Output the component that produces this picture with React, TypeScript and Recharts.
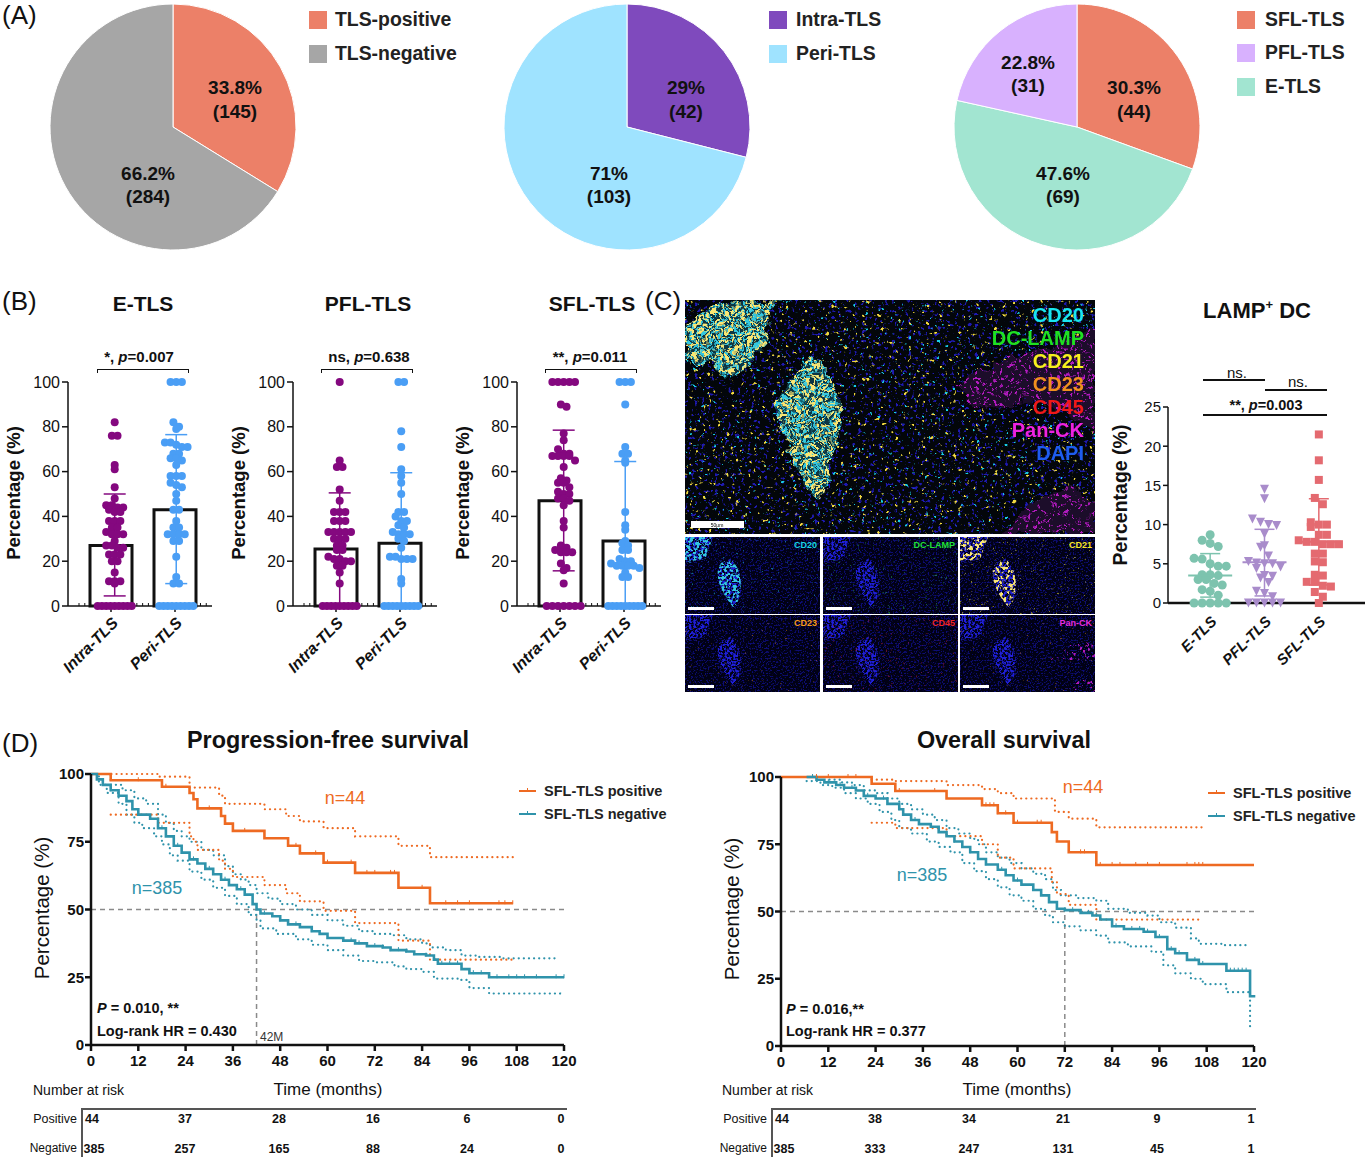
import React from "react";
import {
  Bar,
  Cell,
  ComposedChart,
  ErrorBar,
  Line,
  Pie,
  PieChart,
  ReferenceLine,
  Scatter,
  XAxis,
  YAxis,
} from "recharts";

const FONT = "'Liberation Sans', Arial, sans-serif";
const ORANGE = "#EE6A22";
const TEAL = "#2F93AB";

// panel A
const pieTls = [145, 284];
const pieLoc = [42, 103];
const pieType = [44, 69, 31];

// panel B
const rep = (v: number, n: number) => Array(n).fill(v) as number[];
const eIntra = [82, 76, 76, 63, 61, 53, 48, 45, 45, 44, 44, 43, 42, 42, 38, 38, 38, 35, 35, 33, 32, 32, 32, 29, 27, 27, 26, 26, 23, 23, 23, 20, 20, 15, 11, 11, 11, 10, ...rep(0, 9)];
const ePeri = [...rep(100, 3), 82, 80, 79, 73, 73, 72, 71, 71, 68, 68, 66, 66, 65, 63, 58, 58, 58, 55, 54, 53, 50, 47, 43, 43, 38, 35, 35, 32, 32, 32, 32, 29, 29, 22, 13, 10, 10, ...rep(0, 9)];
const pflIntra = [100, 65, 62, 62, 52, 47, 42, 42, 42, 38, 38, 38, 33, 33, 33, 33, 33, 30, 30, 30, 27, 27, 25, 25, 22, 21, 21, 20, 20, 18, 18, 15, 10, ...rep(0, 9)];
const pflPeri = [...rep(100, 2), 78, 71, 61, 58, 55, 50, 42, 42, 40, 38, 38, 36, 35, 33, 32, 32, 32, 30, 29, 26, 22, 22, 21, 21, 21, 12, 10, ...rep(0, 9)];
const sflIntra = [...rep(100, 5), 90, 89, 77, 74, 70, 68, 68, 67, 67, 67, 67, 65, 62, 57, 56, 55, 55, 53, 51, 50, 50, 48, 48, 47, 45, 38, 35, 27, 26, 25, 24, 24, 24, 19, 17, 16, 10, ...rep(0, 7)];
const sflPeri = [...rep(100, 3), 90, 71, 68, 68, 65, 64, 42, 36, 34, 29, 28, 27, 25, 25, 21, 20, 20, 19, 18, 18, 18, 18, 17, 15, 13, 13, ...rep(0, 9)];
const locNames = ["Intra-TLS", "Peri-TLS"];
const eMeans = [27, 43];
const eLow = [4.5, 10];
const eHigh = [50, 76.5];
const pflMeans = [25.5, 28];
const pflLow = [0, 0];
const pflHigh = [50.5, 59.5];
const sflMeans = [47, 29];
const sflLow = [15.7, 0];
const sflHigh = [78.5, 64.5];

// panel C
const dcNames = ["E-TLS", "PFL-TLS", "SFL-TLS"];
const dcE = [8.7, 8, 7.6, 7.2, 5.7, 5.6, 5, 4.7, 4.7, 3.6, 3.6, 3.5, 3, 3, 2.5, 2.3, 1.7, 1.5, 1, ...rep(0, 5)];
const dcPfl = [14.5, 13.3, 10.7, 10.3, 10, 9.9, 8.8, 7.3, 7.1, 6, 5.3, 5.1, 5, 5, 4.6, 4.4, 3.5, 3.4, 3.2, 2.6, 1.5, 1.2, 0.8, ...rep(0, 5)];
const dcSfl = [21.5, 18.2, 15.7, 13.4, 12.6, 10.3, 10, 10, 9.7, 8.7, 8.7, 8, 7.8, 7.8, 7.5, 7.5, 7.5, 6.3, 6.3, 5.3, 5.2, 3.6, 3.5, 2.7, 2.7, 2.2, 2.1, 1.4, 0.8, 0];
const dcMeans = [3.5, 5.2, 7.8];
const dcLow = [0.75, 0.9, 2.3];
const dcHigh = [6.3, 9.4, 13.3];

// panel D, progression-free survival
const pfsPosT = [0, 5, 18, 25, 26, 27, 33, 34, 36, 44, 50, 53, 59, 67, 78, 86, 107];
const pfsPosS = [100, 97.7, 95.3, 93, 90.7, 87.3, 84.5, 81.7, 79, 76.3, 73.5, 70.7, 67.3, 63.5, 58, 52.3, 52.3];
const pfsPosUpT = [0, 17, 25, 32.5, 34, 36, 44, 49.5, 53, 59, 67, 78, 86, 107];
const pfsPosUpS = [100, 99, 95, 92, 89, 89, 87, 84.5, 82.5, 80, 77, 73.5, 69.3, 69.3];
const pfsPosLoT = [5, 17, 25, 26, 27, 32.5, 34, 36, 44, 49.5, 53, 59, 67, 78, 86, 107];
const pfsPosLoS = [85, 82, 77, 75, 72, 68, 65, 62, 59, 56, 53, 49.5, 45, 38.5, 31.5, 31.5];
const pfsPosCens = [12, 19, 30, 39, 52, 57, 60, 66, 70, 72, 76, 77, 84, 90, 93, 96, 103.5, 105, 107];
const pfsNegT = [0, 1.5, 3, 5, 7, 9, 10.5, 12, 15, 17, 19, 21, 23, 25, 27, 29, 31, 33, 35, 37, 39, 41, 42, 43, 46, 48, 50, 53, 56, 58, 60, 64, 67, 70, 74, 76, 80, 82, 85, 87, 88, 94, 96, 101, 120];
const pfsNegS = [100, 98, 96, 94, 92, 90, 87, 85, 83.5, 80, 77, 73.5, 71, 68.5, 67, 65, 63, 61, 59, 57.5, 55.5, 52, 50, 48.5, 47.5, 46, 44.5, 43.5, 42, 41, 39.5, 38.5, 37.5, 36.5, 36, 35, 34.5, 33.5, 33, 31.5, 30, 28, 26.5, 25, 25];
const pfsNegUpT = [0, 5, 8, 11, 14, 17, 19, 21, 23, 25, 28, 31, 34, 36, 38, 40, 42, 45, 48, 52, 56, 60, 64, 68, 72, 76, 80, 84, 86, 90, 94, 98, 104, 118];
const pfsNegUpS = [100, 96, 94, 91, 89, 85, 82, 79, 77, 75, 72, 70, 66, 63, 61, 59, 56, 54, 52, 50, 48, 46, 44, 42, 41, 40.5, 39, 37.5, 36, 35, 33, 32.5, 32, 31.5];
const pfsNegLoT = [0, 2, 4, 7, 9, 11, 13, 16, 18, 20, 22, 25, 28, 31, 34, 37, 40, 42, 43, 47, 52, 56, 60, 64, 68, 72, 77, 80, 84, 87, 93, 96, 101, 119];
const pfsNegLoS = [100, 96, 93, 89, 85, 82, 80, 77, 74, 70, 68, 64, 61, 58, 55, 52, 48, 46, 43, 41, 39, 37, 35, 33, 31, 30.5, 29, 28, 27, 24.5, 24, 21, 19, 18.5];
const pfsNegCens = [5, 9, 12, 15, 18, 22, 26, 30, 34, 38, 44, 48, 52, 56, 60, 64, 66, 68, 70, 72, 74, 76, 78, 80, 82, 85, 87, 89, 91, 93, 97, 99, 103, 106, 108, 110, 113, 118, 120];

// panel D, overall survival
const osPosT = [0, 23, 29, 42, 51, 55, 59, 68.7, 70, 73, 80, 120];
const osPosS = [100, 97.5, 94.8, 92, 89.5, 86.5, 83, 79.5, 76, 72, 67.3, 67.3];
const osPosUpT = [23, 29, 42, 51, 55, 59, 69.5, 73, 80, 107];
const osPosUpS = [99, 98.5, 97, 95.5, 94, 92, 87, 84.5, 81.3, 81.3];
const osPosLoT = [23, 29, 42, 51, 55, 59, 68.7, 70, 73, 80, 107];
const osPosLoS = [83, 81, 78, 75, 70, 66, 61, 56.5, 52.5, 47, 47];
const osPosCens = [9, 12, 17, 19, 30, 39, 52, 53, 54, 55, 57, 60, 65, 66, 76, 77, 81, 84, 86, 90, 93, 96, 103, 105, 106, 107];
const osNegT = [6.5, 9, 11, 14, 16, 19, 21, 24, 27, 30, 31, 33, 35, 38, 40, 42, 44, 46, 48, 50, 52, 55, 57, 59, 61, 64, 66, 68, 70, 72, 76, 79, 81, 84, 87, 92, 95, 98, 100, 103, 106, 113, 119, 120];
const osNegS = [100, 99, 98, 97, 96, 95, 93, 92, 90, 88, 86, 84, 82.5, 81.5, 79.5, 78, 76, 74, 72, 69.5, 67.5, 65.5, 63.5, 61.5, 60, 58, 56, 53.5, 51, 50.5, 49.5, 48.5, 47, 44.5, 43.5, 42.5, 40.5, 36, 34.5, 32, 30.5, 28, 18.5, 18];
const osNegUpT = [6.5, 12, 15, 18, 21, 24, 27, 30, 33, 36, 39, 42, 45, 48, 50, 52, 55, 58, 61, 64, 67, 69, 71, 75, 80, 83, 88, 93, 96, 100, 104, 106, 112, 118];
const osNegUpS = [100, 99, 98, 97, 95, 94, 92, 90, 88, 86, 84, 81, 79, 77, 75, 72, 70, 68, 66, 64, 62, 58, 56, 55, 54, 51, 49.5, 48.5, 46, 44, 40, 38, 37.5, 36];
const osNegLoT = [6.5, 10, 13, 16, 19, 22, 25, 28, 30, 33, 37, 40, 43, 46, 49, 52, 55, 58, 61, 64, 67, 69, 72, 76, 80, 83, 88, 94, 97, 100, 104, 107, 113, 119];
const osNegLoS = [98.5, 97, 96, 94, 92, 90, 87, 84, 81, 79, 76, 74, 72, 68, 65, 62, 59, 56, 54, 51, 48.5, 46, 44.5, 43, 41, 38.5, 37, 35, 30, 27, 25, 23, 20, 7];
const osNegCens = [8, 12, 15, 18, 22, 26, 30, 34, 38, 44, 48, 52, 56, 60, 64, 68, 72, 74, 76, 78, 80, 85, 87, 89, 91, 93, 96, 99, 101, 103, 105, 107, 114, 115, 116, 117, 118];

const monthTicks = [0, 12, 24, 36, 48, 60, 72, 84, 96, 108, 120];
const riskCols = [0, 1, 2, 3, 4, 5];
const pfsRiskPos = [44, 37, 28, 16, 6, 0];
const pfsRiskNeg = [385, 257, 165, 88, 24, 0];
const osRiskPos = [44, 38, 34, 21, 9, 1];
const osRiskNeg = [385, 333, 247, 131, 45, 1];

const steps = (t: number[], s: number[]) => t.map((v, i) => ({ t: v, s: s[i] }));
const censored = (times: number[], t: number[], s: number[]) =>
  times.map((c) => {
    let k = 0;
    t.forEach((v, i) => {
      if (v <= c) k = i;
    });
    return { t: c, s: s[k] };
  });

// prism style swarm: values in one bin spread sideways from the centre
function swarm(values: number[], center: number, bin: number, step: number, zeroStep = step) {
  const bins = new Map<number, number[]>();
  values.forEach((v) => {
    const key = v === 0 || v === 100 ? v * 1000 : Math.round(v / bin);
    bins.set(key, [...(bins.get(key) ?? []), v]);
  });
  const out: { x: number; y: number }[] = [];
  bins.forEach((vals) => {
    vals.forEach((v, i) => {
      const s = v === 0 ? zeroStep : step;
      out.push({ x: center + (i - (vals.length - 1) / 2) * s, y: v });
    });
  });
  return out;
}

function T({ x, y, children, size = 14, bold, italic, color = "#111", anchor = "middle", rotate = 0 }: any) {
  const tx = anchor === "middle" ? "-50%" : anchor === "end" ? "-100%" : "0";
  return (
    <div
      style={{
        position: "absolute",
        left: x,
        top: y,
        transform: `translate(${tx}, -50%) rotate(${rotate}deg)`,
        whiteSpace: "nowrap",
        fontFamily: FONT,
        fontSize: size,
        fontWeight: bold ? 700 : 400,
        fontStyle: italic ? "italic" : "normal",
        color,
        lineHeight: 1,
      }}
    >
      {children}
    </div>
  );
}

const Box = ({ x, y, w, h, color }: any) => (
  <div style={{ position: "absolute", left: x, top: y, width: w, height: h, background: color }} />
);

function PieBlock({ cx, values, colors }: { cx: number; values: number[]; colors: string[] }) {
  const data = values.map((value, i) => ({ name: String(i), value }));
  return (
    <div style={{ position: "absolute", left: cx - 130, top: -3 }}>
      <PieChart width={260} height={260} margin={{ top: 0, right: 0, bottom: 0, left: 0 }}>
        <Pie
          data={data}
          dataKey="value"
          cx={130}
          cy={130}
          outerRadius={123}
          startAngle={90}
          endAngle={-270}
          stroke="#fff"
          strokeWidth={1}
          isAnimationActive={false}
        >
          {data.map((d, i) => (
            <Cell key={d.name} fill={colors[i]} />
          ))}
        </Pie>
      </PieChart>
    </div>
  );
}

const PURPLE = "#84087F";
const BLUE = "#4A9EF5";
const Nothing = () => <g />;
const RoundDot = (p: any) => <circle cx={p.cx} cy={p.cy} r={4} fill={p.fill} />;
const AxisNick = (p: any) => <line x1={p.cx} x2={p.cx} y1={p.cy - 3} y2={p.cy} stroke="#111" strokeWidth={1} />;
// small ticks the source figure has along its zero line
const minorTicks = Array.from({ length: 23 }, (_, i) => ({ x: -0.58 + i * 0.094, y: 0 }));

function SwarmPanel({ axisX, intra, peri, means, low, high, intraZeroStep = 0.069 }: any) {
  const bars = locNames.map((name, i) => ({ name, mean: means[i] }));
  const errs = [PURPLE, BLUE].map((c, i) => ({
    color: c,
    data: [{ x: i, y: means[i], err: [means[i] - low[i], high[i] - means[i]] }],
  }));
  return (
    <div style={{ position: "absolute", left: axisX - 40, top: 372 }}>
      <ComposedChart width={194} height={314} data={bars} margin={{ top: 10, right: 10, bottom: 0, left: 0 }}>
        <XAxis
          xAxisId="cat"
          dataKey="name"
          height={80}
          padding={{ left: 11, right: 5 }}
          interval={0}
          stroke="#111"
          strokeWidth={1.5}
          tickSize={6}
          tickMargin={4}
          angle={-45}
          textAnchor="end"
          tick={{ fontFamily: FONT, fontSize: 16, fontWeight: 700, fontStyle: "italic", fill: "#111" }}
        />
        <XAxis xAxisId="num" type="number" dataKey="x" domain={[-0.5, 1.5]} hide padding={{ left: 11, right: 5 }} />
        <YAxis
          dataKey="y"
          width={40}
          domain={[0, 100]}
          ticks={[0, 20, 40, 60, 80, 100]}
          stroke="#111"
          strokeWidth={1.5}
          tickSize={6}
          tickMargin={2}
          tick={{ fontFamily: FONT, fontSize: 16, fill: "#111" }}
        />
        <Scatter xAxisId="num" data={minorTicks} shape={AxisNick} isAnimationActive={false} />
        <Bar xAxisId="cat" dataKey="mean" fill="none" stroke="#111" strokeWidth={3} barSize={42} isAnimationActive={false} />
        <Scatter xAxisId="num" data={swarm(intra, 0, 3, 0.092, intraZeroStep)} fill={PURPLE} shape={RoundDot} isAnimationActive={false} />
        <Scatter xAxisId="num" data={swarm(peri, 1, 3, 0.092, 0.069)} fill={BLUE} shape={RoundDot} isAnimationActive={false} />
        {errs.map((e) => (
          <Scatter key={e.color} xAxisId="num" data={e.data} shape={Nothing} isAnimationActive={false}>
            <ErrorBar dataKey="err" direction="y" width={11} stroke={e.color} strokeWidth={1.5} isAnimationActive={false} />
          </Scatter>
        ))}
      </ComposedChart>
    </div>
  );
}

const MeanLine = (color: string) => (p: any) =>
  <line x1={p.cx - 22} x2={p.cx + 22} y1={p.cy} y2={p.cy} stroke={color} strokeWidth={2} />;
const DownTriangle = (p: any) => (
  <path d={`M${p.cx - 4.5} ${p.cy - 4.5}H${p.cx + 4.5}L${p.cx} ${p.cy + 4.5}Z`} fill={p.fill} />
);
const SquareDot = (p: any) => <rect x={p.cx - 4} y={p.cy - 4} width={8} height={8} fill={p.fill} />;
const BigDot = (p: any) => <circle cx={p.cx} cy={p.cy} r={4.5} fill={p.fill} />;

const dcGroups = [
  { values: dcE, color: "#7DC3AE", shape: BigDot },
  { values: dcPfl, color: "#A98CCB", shape: DownTriangle },
  { values: dcSfl, color: "#E46A70", shape: SquareDot },
];

function DcChart() {
  return (
    <div style={{ position: "absolute", left: 1128, top: 397 }}>
      <ComposedChart width={237} height={286} margin={{ top: 10, right: 0, bottom: 0, left: 0 }}>
        <XAxis
          type="number"
          dataKey="x"
          domain={[-0.5, 2.5]}
          ticks={[0, 1, 2]}
          tickFormatter={(i: number) => dcNames[i]}
          padding={{ left: 15, right: 19 }}
          height={80}
          interval={0}
          stroke="#111"
          strokeWidth={2.5}
          tickLine={false}
          tickMargin={6}
          angle={-45}
          textAnchor="end"
          tick={{ fontFamily: FONT, fontSize: 15, fontWeight: 700, fontStyle: "italic", fill: "#111" }}
        />
        <YAxis
          dataKey="y"
          width={40}
          domain={[0, 25]}
          ticks={[0, 5, 10, 15, 20, 25]}
          stroke="#111"
          strokeWidth={1.5}
          tickSize={5}
          tickMargin={2}
          tick={{ fontFamily: FONT, fontSize: 15, fill: "#111" }}
        />
        {dcGroups.map((g, i) => (
          <Scatter key={g.color} data={swarm(g.values, i, 1.3, 0.148)} fill={g.color} shape={g.shape} isAnimationActive={false} />
        ))}
        {dcGroups.map((g, i) => (
          <Scatter
            key={g.color + "m"}
            data={[{ x: i, y: dcMeans[i], err: [dcMeans[i] - dcLow[i], dcHigh[i] - dcMeans[i]] }]}
            shape={MeanLine(g.color)}
            isAnimationActive={false}
          >
            <ErrorBar dataKey="err" direction="y" width={10} stroke={g.color} strokeWidth={1.5} isAnimationActive={false} />
          </Scatter>
        ))}
      </ComposedChart>
    </div>
  );
}

const CensorTick = (color: string) => (p: any) =>
  <line x1={p.cx} x2={p.cx} y1={p.cy - 3} y2={p.cy + 1} stroke={color} strokeWidth={1} />;

function Survival({ left, top, height, curves, median }: any) {
  const solid = { type: "stepAfter" as const, dot: false, isAnimationActive: false, strokeWidth: 2.6 };
  const dotted = {
    type: "stepAfter" as const,
    dot: false,
    isAnimationActive: false,
    strokeWidth: 2.2,
    strokeDasharray: "0.1 5",
    strokeLinecap: "round" as const,
  };
  return (
    <div style={{ position: "absolute", left, top }}>
      <ComposedChart width={540} height={height} margin={{ top: 10, right: 17, bottom: 0, left: 0 }}>
        <XAxis
          dataKey="t"
          type="number"
          domain={[0, 120]}
          ticks={monthTicks}
          height={30}
          stroke="#111"
          strokeWidth={2.5}
          tickSize={6}
          tickMargin={4}
          tick={{ fontFamily: FONT, fontSize: 15, fontWeight: 700, fill: "#111" }}
        />
        <YAxis
          dataKey="s"
          width={50}
          domain={[0, 100]}
          ticks={[0, 25, 50, 75, 100]}
          stroke="#111"
          strokeWidth={2.5}
          tickSize={6}
          tickMargin={1}
          tick={{ fontFamily: FONT, fontSize: 15, fontWeight: 700, fill: "#111" }}
        />
        <ReferenceLine y={50} stroke="#8a8a8a" strokeWidth={1.5} strokeDasharray="5 4" />
        <ReferenceLine segment={[{ x: median, y: 0 }, { x: median, y: 50 }]} stroke="#8a8a8a" strokeWidth={1.5} strokeDasharray="5 4" />
        {curves.map((c: any) => (
          <Line key={c.id} data={c.data} dataKey="s" stroke={c.color} {...(c.ci ? dotted : solid)} />
        ))}
        {curves
          .filter((c: any) => c.cens)
          .map((c: any) => (
            <Scatter key={c.id + "c"} data={c.cens} shape={CensorTick(c.color)} isAnimationActive={false} />
          ))}
      </ComposedChart>
    </div>
  );
}

const pfsCurves = [
  { id: "nu", color: TEAL, ci: true, data: steps(pfsNegUpT, pfsNegUpS) },
  { id: "nl", color: TEAL, ci: true, data: steps(pfsNegLoT, pfsNegLoS) },
  { id: "pu", color: ORANGE, ci: true, data: steps(pfsPosUpT, pfsPosUpS) },
  { id: "pl", color: ORANGE, ci: true, data: steps(pfsPosLoT, pfsPosLoS) },
  { id: "p", color: ORANGE, data: steps(pfsPosT, pfsPosS), cens: censored(pfsPosCens, pfsPosT, pfsPosS) },
  { id: "n", color: TEAL, data: steps(pfsNegT, pfsNegS), cens: censored(pfsNegCens, pfsNegT, pfsNegS) },
];
const osCurves = [
  { id: "nu", color: TEAL, ci: true, data: steps(osNegUpT, osNegUpS) },
  { id: "nl", color: TEAL, ci: true, data: steps(osNegLoT, osNegLoS) },
  { id: "pu", color: ORANGE, ci: true, data: steps(osPosUpT, osPosUpS) },
  { id: "pl", color: ORANGE, ci: true, data: steps(osPosLoT, osPosLoS) },
  { id: "p", color: ORANGE, data: steps(osPosT, osPosS), cens: censored(osPosCens, osPosT, osPosS) },
  { id: "n", color: TEAL, data: steps(osNegT, osNegS), cens: censored(osNegCens, osNegT, osNegS) },
];

function RiskTable({ labelX, ruleX, ruleW, firstX, spacing, riskPos, riskNeg, headX }: any) {
  return (
    <>
      <T x={headX} y={1090} size={14} anchor="start">Number at risk</T>
      <Box x={ruleX} y={1108} w={ruleW} h={1.5} color="#555" />
      <Box x={ruleX} y={1108} w={1.5} h={49} color="#555" />
      <T x={labelX} y={1119} size={12.5} anchor="end">Positive</T>
      <T x={labelX} y={1148} size={12} anchor="end">Negative</T>
      {riskCols.map((i) => (
        <React.Fragment key={i}>
          <T x={firstX + i * spacing + (i === 0 ? 1 : 0)} y={1119} size={12.5} bold>{riskPos[i]}</T>
          <T x={firstX + i * spacing + (i === 0 ? 3 : 0)} y={1149} size={12.5} bold>{riskNeg[i]}</T>
        </React.Fragment>
      ))}
    </>
  );
}

function Bracket({ x, w, y }: any) {
  return (
    <div
      style={{
        position: "absolute",
        left: x,
        top: y,
        width: w,
        height: 3,
        borderTop: "1.5px solid #111",
        borderLeft: "1.5px solid #111",
        borderRight: "1.5px solid #111",
      }}
    />
  );
}

function Speck({ id, rgb, freq, seed, k, t }: any) {
  const [r, g, b] = rgb;
  return (
    <filter id={id} x="0" y="0" width="100%" height="100%" colorInterpolationFilters="sRGB">
      <feTurbulence type="fractalNoise" baseFrequency={freq} numOctaves={2} seed={seed} />
      <feColorMatrix values={`0 0 0 0 ${r} 0 0 0 0 ${g} 0 0 0 0 ${b} ${k} 0 0 0 ${-t}`} />
      <feComposite in2="SourceGraphic" operator="in" />
    </filter>
  );
}

const tiles = [
  { label: "CD20", color: "#19D3E6", x: 0, y: 237, f: "sCyanT" },
  { label: "DC-LAMP", color: "#22E03A", x: 138, y: 237, f: "sGreen" },
  { label: "CD21", color: "#F5E62A", x: 275, y: 237, f: "sYellowT" },
  { label: "CD23", color: "#F59B1E", x: 0, y: 315, f: "sOrange" },
  { label: "CD45", color: "#F0252A", x: 138, y: 315, f: "sRed" },
  { label: "Pan-CK", color: "#E72CE0", x: 275, y: 315, f: "sOrange" },
];
const markerNames = ["CD20", "DC-LAMP", "CD21", "CD23", "CD45", "Pan-CK", "DAPI"];
const markerColors = ["#19E6F0", "#1FE022", "#F7F01E", "#F0901E", "#F01818", "#EE22E0", "#1E5CF0"];
const TLS_MAIN = "M0 22L35 3L98 0L80 15L85 35L60 70L45 78L25 62L0 62Z M125 55C145 70 158 100 155 130C150 160 145 180 135 200C120 190 110 165 100 135C90 125 85 105 100 90Z";
const TLS_TILE = "M0 0H28L20 22L0 25Z M45 22C60 32 58 65 48 70C35 55 28 35 36 26Z";
const CK_MAIN = "M270 85L330 55L410 30V130L350 100L290 110Z M320 234L350 200L385 185L410 205V234Z";

function Micrograph() {
  return (
    <svg style={{ position: "absolute", left: 685, top: 300 }} width={410} height={392}>
      <defs>
        <filter id="rough" x="-10%" y="-10%" width="120%" height="120%">
          <feTurbulence type="fractalNoise" baseFrequency={0.07} numOctaves={3} seed={21} />
          <feDisplacementMap in="SourceGraphic" scale={16} xChannelSelector="R" yChannelSelector="G" />
        </filter>
        <Speck id="sBlue" rgb={[0.12, 0.1, 0.7]} freq={0.3} seed={3} k={10} t={6.1} />
        <Speck id="sDim" rgb={[0.05, 0.05, 0.45]} freq={0.6} seed={5} k={9} t={4.9} />
        <Speck id="sTile" rgb={[0.12, 0.12, 0.85]} freq={0.45} seed={6} k={9} t={4.2} />
        <Speck id="sYellow" rgb={[0.95, 0.85, 0.25]} freq={0.22} seed={8} k={12} t={8.3} />
        <Speck id="sYellowD" rgb={[0.98, 0.9, 0.45]} freq={0.3} seed={9} k={10} t={5.2} />
        <Speck id="sYellowT" rgb={[0.85, 0.8, 0.2]} freq={0.45} seed={10} k={10} t={7} />
        <Speck id="sCyan" rgb={[0.1, 0.8, 0.9]} freq={0.25} seed={11} k={12} t={8.6} />
        <Speck id="sCyanD" rgb={[0.2, 0.78, 0.88]} freq={0.35} seed={12} k={10} t={4.8} />
        <Speck id="sCyanT" rgb={[0.1, 0.7, 0.85]} freq={0.45} seed={13} k={10} t={7.2} />
        <Speck id="sGreen" rgb={[0.15, 0.6, 0.35]} freq={0.4} seed={14} k={10} t={7} />
        <Speck id="sOrange" rgb={[0.85, 0.5, 0.1]} freq={0.4} seed={15} k={10} t={7.6} />
        <Speck id="sRed" rgb={[0.6, 0.1, 0.25]} freq={0.4} seed={16} k={10} t={7} />
        <Speck id="sMagenta" rgb={[0.7, 0.1, 0.75]} freq={0.3} seed={17} k={10} t={5.9} />
        <clipPath id="mainClip"><rect width={410} height={234} /></clipPath>
      </defs>
      <rect x={0} y={0} width={410} height={234} fill="#03060A" />
      <rect x={0} y={0} width={410} height={234} filter="url(#sBlue)" />
      <rect x={0} y={0} width={410} height={234} filter="url(#sYellow)" />
      <rect x={0} y={0} width={410} height={234} filter="url(#sCyan)" />
      <g clipPath="url(#mainClip)">
        <g filter="url(#rough)">
          <path d={CK_MAIN} fill="#1C0A2C" />
          <path d={CK_MAIN} filter="url(#sMagenta)" />
          <path d={TLS_MAIN} fill="#0E3642" />
          <path d={TLS_MAIN} filter="url(#sCyanD)" />
          <path d={TLS_MAIN} filter="url(#sYellowD)" />
        </g>
      </g>
      <rect x={6} y={221} width={53} height={7} fill="#fff" />
      <text x={32} y={227} fontSize={5} textAnchor="middle" fontFamily={FONT}>50μm</text>
      {markerNames.map((m, i) => (
        <text key={m} x={399} y={22 + i * 23} fontSize={20} fontWeight={700} textAnchor="end" fontFamily={FONT} fill={markerColors[i]}>
          {m}
        </text>
      ))}
      {tiles.map((t) => (
        <g key={t.label} transform={`translate(${t.x} ${t.y})`}>
          <rect width={135} height={77} fill="#010114" />
          <rect width={135} height={77} filter="url(#sDim)" />
          <path d={TLS_TILE} filter="url(#sTile)" />
          {t.label === "CD20" && <path d={TLS_TILE} filter="url(#sCyanD)" />}
          {t.label === "CD21" && <path d={TLS_TILE} filter="url(#sYellowD)" />}
          <rect width={135} height={77} filter={`url(#${t.f})`} opacity={0.6} />
          {t.label === "Pan-CK" && <path d="M90 45L110 30L135 25V45L110 45Z M105 77L120 65L135 65V77Z" filter="url(#sMagenta)" />}
          <rect x={3} y={70} width={26} height={3} fill="#fff" />
          <text x={132} y={11} fontSize={9} fontWeight={700} textAnchor="end" fontFamily={FONT} fill={t.color}>{t.label}</text>
        </g>
      ))}
    </svg>
  );
}

function LegendLine({ x, y, color, label }: any) {
  return (
    <>
      <Box x={x} y={y - 1} w={17} h={2.2} color={color} />
      <Box x={x + 8} y={y - 3} w={1} h={3} color={color} />
      <T x={x + 25} y={y} size={14.5} bold anchor="start" color="#222">{label}</T>
    </>
  );
}

export default function App() {
  return (
    <div style={{ position: "absolute", left: 0, top: 0, width: 1369, height: 1160, background: "#fff", overflow: "hidden" }}>
      <PieBlock cx={173} values={pieTls} colors={["#EC8068", "#A6A6A6"]} />
      <PieBlock cx={627} values={pieLoc} colors={["#7F4ABD", "#9FE3FF"]} />
      <PieBlock cx={1077} values={pieType} colors={["#EC8068", "#A2E5D1", "#D8B1FE"]} />
      <T x={2} y={15} size={26} anchor="start">(A)</T>
      <T x={235} y={87} size={19} bold>33.8%</T>
      <T x={235} y={111} size={19} bold>(145)</T>
      <T x={148} y={173} size={19} bold>66.2%</T>
      <T x={148} y={196} size={19} bold>(284)</T>
      <T x={686} y={87} size={19} bold>29%</T>
      <T x={686} y={111} size={19} bold>(42)</T>
      <T x={609} y={173} size={19} bold>71%</T>
      <T x={609} y={196} size={19} bold>(103)</T>
      <T x={1134} y={87} size={19} bold>30.3%</T>
      <T x={1134} y={111} size={19} bold>(44)</T>
      <T x={1028} y={62} size={19} bold>22.8%</T>
      <T x={1028} y={85} size={19} bold>(31)</T>
      <T x={1063} y={173} size={19} bold>47.6%</T>
      <T x={1063} y={196} size={19} bold>(69)</T>

      <Box x={309} y={11} w={18} h={18} color="#EC8068" />
      <T x={335} y={20} size={19.4} bold anchor="start" color="#222">TLS-positive</T>
      <Box x={309} y={45} w={18} h={18} color="#A6A6A6" />
      <T x={335} y={54} size={19.4} bold anchor="start" color="#222">TLS-negative</T>
      <Box x={769} y={11} w={18} h={18} color="#7F4ABD" />
      <T x={796} y={20} size={19.4} bold anchor="start" color="#222">Intra-TLS</T>
      <Box x={769} y={45} w={18} h={18} color="#9FE3FF" />
      <T x={796} y={54} size={19.4} bold anchor="start" color="#222">Peri-TLS</T>
      <Box x={1237} y={11} w={18} h={18} color="#EC8068" />
      <T x={1265} y={20} size={19.4} bold anchor="start" color="#222">SFL-TLS</T>
      <Box x={1237} y={44} w={18} h={18} color="#D8B1FE" />
      <T x={1265} y={53} size={19.4} bold anchor="start" color="#222">PFL-TLS</T>
      <Box x={1237} y={78} w={18} h={18} color="#A2E5D1" />
      <T x={1265} y={87} size={19.4} bold anchor="start" color="#222">E-TLS</T>

      <T x={2} y={301} size={26} anchor="start">(B)</T>
      <T x={143} y={303} size={21} bold>E-TLS</T>
      <T x={368} y={303} size={21} bold>PFL-TLS</T>
      <T x={592} y={303} size={21} bold>SFL-TLS</T>
      <SwarmPanel axisX={68} intra={eIntra} peri={ePeri} means={eMeans} low={eLow} high={eHigh} />
      <SwarmPanel axisX={293} intra={pflIntra} peri={pflPeri} means={pflMeans} low={pflLow} high={pflHigh} />
      <SwarmPanel axisX={517} intra={sflIntra} peri={sflPeri} means={sflMeans} low={sflLow} high={sflHigh} intraZeroStep={0.092} />
      <T x={14} y={493} size={18.5} bold rotate={-90}>Percentage (%)</T>
      <T x={239} y={493} size={18.5} bold rotate={-90}>Percentage (%)</T>
      <T x={463} y={493} size={18.5} bold rotate={-90}>Percentage (%)</T>
      <T x={139} y={356} size={15} bold>*, <i>p</i>=0.007</T>
      <Bracket x={97} w={90} y={369} />
      <T x={369} y={356} size={15} bold>ns, <i>p</i>=0.638</T>
      <Bracket x={321} w={90} y={369} />
      <T x={590} y={356} size={15} bold>**, <i>p</i>=0.011</T>
      <Bracket x={545} w={90} y={369} />

      <T x={645} y={301} size={26} anchor="start">(C)</T>
      <Micrograph />
      <T x={1257} y={310} size={22} bold>LAMP<sup style={{ fontSize: 13 }}>+</sup> DC</T>
      <DcChart />
      <T x={1121} y={495} size={19.5} bold rotate={-90}>Percentage (%)</T>
      <T x={1237} y={372} size={15}>ns.</T>
      <Box x={1203} y={379} w={62} h={2} color="#111" />
      <T x={1298} y={381} size={15}>ns.</T>
      <Box x={1265} y={389} w={62} h={2} color="#111" />
      <T x={1266} y={405} size={14.5} bold>**, <i>p</i>=0.003</T>
      <Box x={1203} y={414} w={124} h={2} color="#111" />

      <T x={2} y={743} size={26} anchor="start">(D)</T>
      <T x={328} y={741} size={23.4} bold>Progression-free survival</T>
      <T x={1004} y={741} size={23.4} bold>Overall survival</T>
      <Survival left={41} top={764} height={311} curves={pfsCurves} median={42} />
      <Survival left={731} top={767} height={309} curves={osCurves} median={72} />
      <T x={42} y={908} size={20.5} rotate={-90}>Percentage (%)</T>
      <T x={732} y={909} size={20.5} rotate={-90}>Percentage (%)</T>
      <T x={345} y={798} size={18} color={ORANGE}>n=44</T>
      <T x={157} y={888} size={18} color={TEAL}>n=385</T>
      <T x={1083} y={787} size={18} color={ORANGE}>n=44</T>
      <T x={922} y={875} size={18} color={TEAL}>n=385</T>
      <T x={97} y={1008} size={14.5} bold anchor="start"><i>P</i> = 0.010, **</T>
      <T x={97} y={1031} size={14.5} bold anchor="start">Log-rank HR = 0.430</T>
      <T x={786} y={1009} size={14.5} bold anchor="start"><i>P</i> = 0.016,**</T>
      <T x={786} y={1031} size={14.5} bold anchor="start">Log-rank HR = 0.377</T>
      <T x={260} y={1037} size={12} anchor="start" color="#333">42M</T>
      <LegendLine x={519} y={791} color={ORANGE} label="SFL-TLS positive" />
      <LegendLine x={519} y={814} color={TEAL} label="SFL-TLS negative" />
      <LegendLine x={1208} y={793} color={ORANGE} label="SFL-TLS positive" />
      <LegendLine x={1208} y={816} color={TEAL} label="SFL-TLS negative" />
      <T x={328} y={1089} size={17}>Time (months)</T>
      <T x={1017} y={1089} size={17}>Time (months)</T>
      <RiskTable headX={33} labelX={77} ruleX={81} ruleW={486} firstX={91} spacing={94} riskPos={pfsRiskPos} riskNeg={pfsRiskNeg} />
      <RiskTable headX={722} labelX={767} ruleX={771} ruleW={485} firstX={781} spacing={94} riskPos={osRiskPos} riskNeg={osRiskNeg} />
    </div>
  );
}
